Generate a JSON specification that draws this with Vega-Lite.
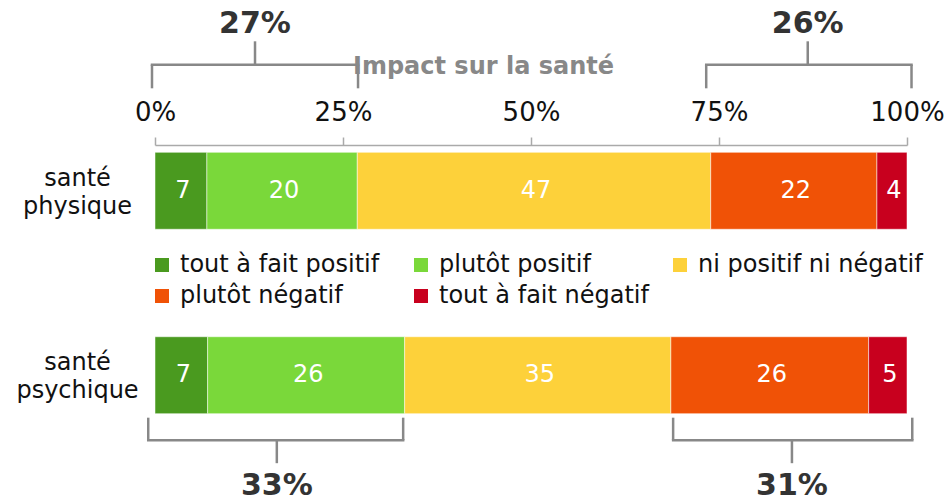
{
  "$schema": "https://vega.github.io/schema/vega-lite/v6.json",
  "width": 752,
  "height": 276,
  "autosize": "none",
  "padding": {"left": 155, "top": 145, "right": 41, "bottom": 75},
  "background": "white",
  "config": {"view": {"stroke": null}, "font": "DejaVu Sans"},
  "datasets": {
    "bars": [
      {"row": "santé physique", "cat": "tout à fait positif", "rank": 1, "value": 6.9},
      {"row": "santé physique", "cat": "plutôt positif", "rank": 2, "value": 20.0},
      {"row": "santé physique", "cat": "ni positif ni négatif", "rank": 3, "value": 47.0},
      {"row": "santé physique", "cat": "plutôt négatif", "rank": 4, "value": 22.1},
      {"row": "santé physique", "cat": "tout à fait négatif", "rank": 5, "value": 4.0},
      {"row": "santé psychique", "cat": "tout à fait positif", "rank": 1, "value": 7.0},
      {"row": "santé psychique", "cat": "plutôt positif", "rank": 2, "value": 26.2},
      {"row": "santé psychique", "cat": "ni positif ni négatif", "rank": 3, "value": 35.4},
      {"row": "santé psychique", "cat": "plutôt négatif", "rank": 4, "value": 26.3},
      {"row": "santé psychique", "cat": "tout à fait négatif", "rank": 5, "value": 5.1}
    ],
    "topB": [
      {"row": "santé physique", "xs": -0.4, "xe": 27.0, "xm": 13.3, "label": "27%"},
      {"row": "santé physique", "xs": 73.3, "xe": 100.6, "xm": 86.8, "label": "26%"}
    ],
    "botB": [
      {"row": "santé psychique", "xs": -0.9, "xe": 33.0, "xm": 16.2, "label": "33%"},
      {"row": "santé psychique", "xs": 68.9, "xe": 100.7, "xm": 84.7, "label": "31%"}
    ]
  },
  "encoding": {
    "y": {
      "field": "row",
      "type": "nominal",
      "title": null,
      "scale": {"domain": ["santé physique", "santé psychique"], "paddingInner": 0.583, "paddingOuter": 0.04},
      "axis": {
        "domain": false, "ticks": false, "tickSize": 0, "labelPadding": 78,
        "labelAlign": "center", "labelBaseline": "middle", "labelFontSize": 24,
        "labelColor": "#111", "labelLineHeight": 28, "labelLimit": 0, "labelOffset": -12,
        "labelExpr": "split(datum.label, ' ')"
      }
    }
  },
  "layer": [
    {
      "data": {"name": "bars"},
      "mark": {"type": "bar", "stroke": "white", "strokeWidth": 1, "strokeOpacity": 0.5},
      "encoding": {
        "x": {
          "field": "value", "type": "quantitative", "stack": "zero",
          "scale": {"domain": [0, 100], "nice": false},
          "title": "Impact sur la santé",
          "axis": {
            "orient": "top", "values": [0, 25, 50, 75, 100], "labelExpr": "datum.value + '%'",
            "labelFontSize": 26, "labelColor": "#111", "labelPadding": 12, "labelFlush": false, "labelOverlap": false,
            "tickSize": 8, "tickColor": "#aaa", "tickWidth": 1.5, "domainColor": "#aaa", "domainWidth": 1.5, "grid": false,
            "titleFontSize": 24, "titleFontWeight": "bold", "titleColor": "#888",
            "titleX": 328, "titleY": -72, "titleBaseline": "alphabetic", "titleAlign": "center"
          }
        },
        "color": {
          "field": "cat", "type": "nominal",
          "scale": {
            "domain": ["tout à fait positif", "plutôt positif", "ni positif ni négatif", "plutôt négatif", "tout à fait négatif"],
            "range": ["#4a9a1f", "#7ad83a", "#fdd13a", "#f05206", "#c8001e"]
          },
          "legend": {
            "orient": "none", "legendX": -5, "legendY": 108, "direction": "horizontal", "columns": 3,
            "title": null, "symbolType": "square", "symbolSize": 196, "symbolStrokeWidth": 0,
            "labelFontSize": 24, "labelColor": "#111", "labelOffset": 6, "columnPadding": 4, "rowPadding": 7,
            "gridAlign": "all", "labelLimit": 400, "padding": 0, "symbolOffset": 0
          }
        },
        "order": {"field": "rank", "type": "quantitative"}
      }
    },
    {
      "data": {"name": "bars"},
      "mark": {"type": "text", "color": "white", "fontSize": 24, "baseline": "middle", "dx": 2},
      "encoding": {
        "x": {"field": "value", "type": "quantitative", "stack": "zero", "bandPosition": 0.5},
        "detail": {"field": "cat"},
        "order": {"field": "rank", "type": "quantitative"},
        "text": {"field": "value", "type": "quantitative", "format": ".0f"}
      }
    },
    {
      "data": {"name": "topB"},
      "mark": {"type": "rule", "color": "#888", "strokeWidth": 2.5, "strokeCap": "square", "yOffset": -126},
      "encoding": {"x": {"field": "xs", "type": "quantitative"}, "x2": {"field": "xe"}}
    },
    {
      "data": {"name": "topB"},
      "mark": {"type": "rule", "color": "#888", "strokeWidth": 2.5, "yOffset": -126, "y2Offset": -102.5},
      "encoding": {"x": {"field": "xs", "type": "quantitative"}, "y2": {"field": "row"}}
    },
    {
      "data": {"name": "topB"},
      "mark": {"type": "rule", "color": "#888", "strokeWidth": 2.5, "yOffset": -126, "y2Offset": -102.5},
      "encoding": {"x": {"field": "xe", "type": "quantitative"}, "y2": {"field": "row"}}
    },
    {
      "data": {"name": "topB"},
      "mark": {"type": "rule", "color": "#888", "strokeWidth": 2.5, "yOffset": -149.5, "y2Offset": -126},
      "encoding": {"x": {"field": "xm", "type": "quantitative"}, "y2": {"field": "row"}}
    },
    {
      "data": {"name": "topB"},
      "mark": {"type": "text", "color": "#333", "fontSize": 30, "fontWeight": "bold", "baseline": "alphabetic", "yOffset": -157.5},
      "encoding": {"x": {"field": "xm", "type": "quantitative"}, "text": {"field": "label"}}
    },
    {
      "data": {"name": "botB"},
      "mark": {"type": "rule", "color": "#888", "strokeWidth": 2.5, "strokeCap": "square", "yOffset": 65},
      "encoding": {"x": {"field": "xs", "type": "quantitative"}, "x2": {"field": "xe"}}
    },
    {
      "data": {"name": "botB"},
      "mark": {"type": "rule", "color": "#888", "strokeWidth": 2.5, "yOffset": 42.5, "y2Offset": 65},
      "encoding": {"x": {"field": "xs", "type": "quantitative"}, "y2": {"field": "row"}}
    },
    {
      "data": {"name": "botB"},
      "mark": {"type": "rule", "color": "#888", "strokeWidth": 2.5, "yOffset": 42.5, "y2Offset": 65},
      "encoding": {"x": {"field": "xe", "type": "quantitative"}, "y2": {"field": "row"}}
    },
    {
      "data": {"name": "botB"},
      "mark": {"type": "rule", "color": "#888", "strokeWidth": 2.5, "yOffset": 65, "y2Offset": 88},
      "encoding": {"x": {"field": "xm", "type": "quantitative"}, "y2": {"field": "row"}}
    },
    {
      "data": {"name": "botB"},
      "mark": {"type": "text", "color": "#333", "fontSize": 30, "fontWeight": "bold", "baseline": "alphabetic", "yOffset": 119.5},
      "encoding": {"x": {"field": "xm", "type": "quantitative"}, "text": {"field": "label"}}
    }
  ]
}
